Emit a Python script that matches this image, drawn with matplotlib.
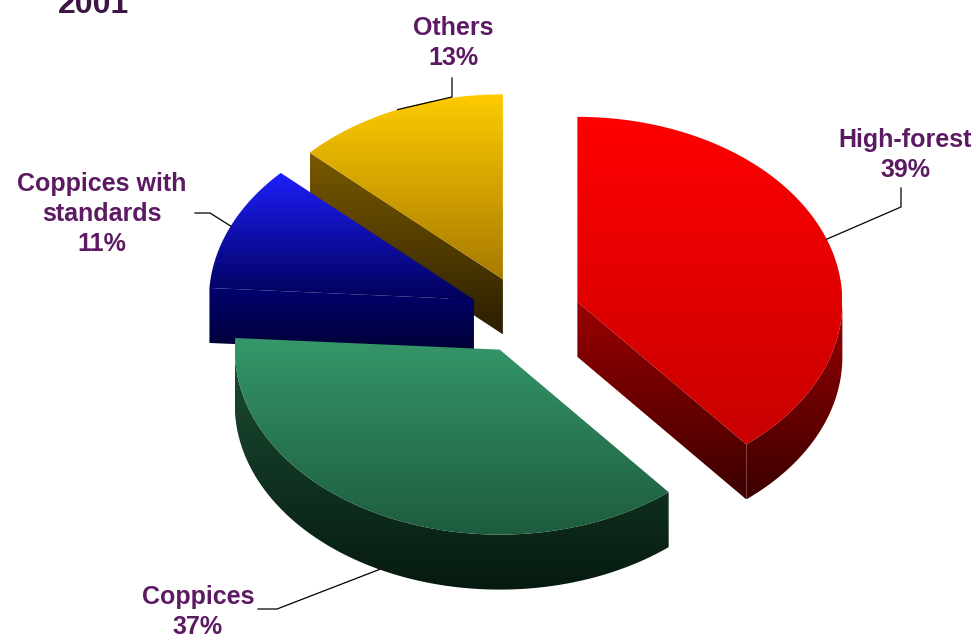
import numpy as np
import matplotlib
matplotlib.use('Agg')
import matplotlib.pyplot as plt
from matplotlib.patches import Polygon
from matplotlib.colors import LinearSegmentedColormap

# forest area by management type, 2001
year = '2001'
labels = ['High-forest', 'Coppices', 'Coppices with\nstandards', 'Others']
shares = [39, 37, 11, 13]

# top face / side face colour ramps (top of ramp, bottom of ramp)
top_cols = [('#ff0000', '#c80000'), ('#35976a', '#1d5c3e'),
            ('#1e1efa', '#00005a'), ('#ffcc00', '#a87a00')]
side_cols = [('#9a0000', '#3c0000'), ('#1c4e34', '#061a10'),
             ('#000070', '#000030'), ('#7a5a00', '#2a1e00')]
txt_col = '#5c1a62'

# projected pie geometry (pixel space)
cx, cy = 525, 315
rx, ry = 265, 185
depth = 55
explode = 0.21

fig = plt.figure(figsize=(9.78, 6.41), dpi=100)
ax = fig.add_axes([0, 0, 1, 1])
ax.axis('off')


def pt(x0, y0, t, dz=0.0):
    return np.column_stack([x0 + rx*np.cos(t), y0 - ry*np.sin(t) + dz])


def grad_fill(pts, cols, z):
    poly = Polygon(pts, closed=True, facecolor='none', edgecolor='none', zorder=z)
    ax.add_patch(poly)
    cmap = LinearSegmentedColormap.from_list('g', list(cols))
    ramp = np.linspace(0, 1, 256).reshape(-1, 1)
    im = ax.imshow(ramp, cmap=cmap, aspect='auto', interpolation='bilinear',
                   extent=(pts[:, 0].min(), pts[:, 0].max(), pts[:, 1].max(), pts[:, 1].min()),
                   zorder=z)
    im.set_clip_path(poly)


# slice angles, clockwise from 12 o'clock
fr = np.array(shares) / sum(shares)
hi = np.radians(90 - 360*np.concatenate([[0], np.cumsum(fr)[:-1]]))
lo = hi - 2*np.pi*fr
mid = (hi + lo) / 2

order = np.argsort(-np.sin(mid))  # back slices first
z = 1
rims = {}
for i in order:
    x0 = cx + explode*rx*np.cos(mid[i])
    y0 = cy - explode*ry*np.sin(mid[i])
    a1, a2 = lo[i], hi[i]

    # radial faces turned towards the viewer
    for a, vis in ((a1, np.cos(a1) > 1e-6), (a2, np.cos(a2) < -1e-6)):
        if vis:
            p = pt(x0, y0, np.array([a]))[0]
            face = np.array([[x0, y0], p, p + [0, depth], [x0, y0 + depth]])
            grad_fill(face, side_cols[i], z)
            z += 1

    # outer wall on the front half
    s0 = a1 % (2*np.pi)
    s1 = s0 + (a2 - a1)
    lo_v, hi_v = max(s0, np.pi), min(s1, 2*np.pi)
    if hi_v > lo_v:
        t = np.linspace(lo_v, hi_v, 80)
        wall = np.vstack([pt(x0, y0, t), pt(x0, y0, t[::-1], depth)])
        grad_fill(wall, side_cols[i], z)
        z += 1

    # top face
    t = np.linspace(a1, a2, 120)
    top = np.vstack([[x0, y0], pt(x0, y0, t)])
    grad_fill(top, top_cols[i], z)
    z += 1

    front = np.sin(mid[i]) < 0
    rims[i] = pt(x0, y0, np.array([mid[i]]), depth if front else 0)[0]

# labels with elbow leaders
lab_pos = [(905, 155), (198, 612), (102, 214), (453, 43)]
elbows = [[(901, 188), (901, 207)], [(258, 609), (277, 609)],
          [(195, 213), (210, 213)], [(452, 78), (452, 97)]]
for i in range(len(shares)):
    ax.text(lab_pos[i][0], lab_pos[i][1], f'{labels[i]}\n{shares[i]}%',
            ha='center', va='center', fontsize=18, fontweight='bold',
            color=txt_col, linespacing=1.32,
            family=['Liberation Sans Narrow', 'Liberation Sans'], zorder=50)
    path = np.array(elbows[i] + [tuple(rims[i])])
    ax.plot(path[:, 0], path[:, 1], color='black', lw=0.9, zorder=40)

ax.text(58, 13, year, fontsize=23, fontweight='bold', color='#3c1446',
        va='baseline', family='Liberation Sans')

ax.set_xlim(0, 978)
ax.set_ylim(641, 0)
fig.savefig('out.png', dpi=100, facecolor='white')
